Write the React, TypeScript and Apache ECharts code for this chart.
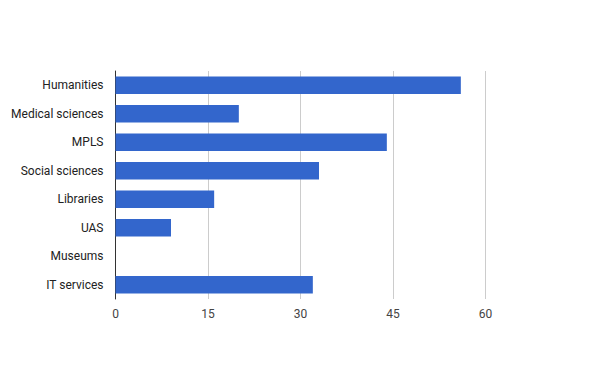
import React, { useEffect, useRef } from "react";
import * as echarts from "echarts";

const categories = ["Humanities", "Medical sciences", "MPLS", "Social sciences", "Libraries", "UAS", "Museums", "IT services"];
const values = [56, 20, 44, 33, 16, 9, 0, 32];
const xTicks = [0, 15, 30, 45, 60];

export default function App() {
  const ref = useRef<HTMLDivElement>(null);
  useEffect(() => {
    const chart = echarts.init(ref.current!, null, { renderer: "svg" });
    chart.setOption({
      animation: false,
      textStyle: { fontFamily: "Roboto, Arial, sans-serif" },
      grid: { left: 115.5, right: 114.5, top: 71, bottom: 72, containLabel: false },
      xAxis: {
        type: "value",
        min: xTicks[0],
        max: xTicks[xTicks.length - 1],
        interval: 15,
        axisLine: { show: false },
        axisTick: { show: false },
        splitLine: { lineStyle: { color: "#cccccc", width: 1 } },
        axisLabel: { color: "#444444", fontSize: 12, margin: 9 },
      },
      yAxis: {
        type: "category",
        inverse: true,
        data: categories,
        axisLine: { show: true, lineStyle: { color: "#333333", width: 1 } },
        axisTick: { show: false },
        axisLabel: { color: "#222222", fontSize: 12, margin: 12 },
      },
      series: [
        {
          type: "bar",
          data: values,
          barCategoryGap: "39%",
          itemStyle: { color: "#3366cc" },
        },
      ],
    });
    return () => chart.dispose();
  }, []);
  return <div ref={ref} style={{ width: 600, height: 371, position: "absolute", left: 0, top: 0 }} />;
}
